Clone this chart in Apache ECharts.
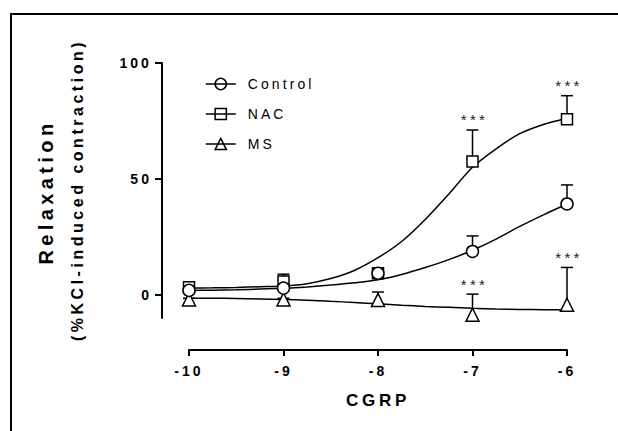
<!DOCTYPE html>
<html>
<head>
<meta charset="utf-8">
<script src="https://cdn.jsdelivr.net/npm/echarts@6/dist/echarts.min.js"></script>
<style>
html, body { margin: 0; padding: 0; background: #fff; }
#chart { width: 618px; height: 431px; }
#chart text { letter-spacing: 0.22em; }
</style>
</head>
<body>
<div id="chart"></div>
<script>
// ---- data ----
const xVals = [-10, -9, -8, -7, -6];
const seriesNames = ['Control', 'NAC', 'MS'];

const controlMean = [1.9, 2.9, 9.3, 18.7, 39.2];
const controlErr  = [0.6, 0.8, 0.8, 6.7, 8.2];
const controlSig  = ['', '', '', '', ''];

const nacMean = [3.3, 5.7, 9.3, 57.5, 75.7];
const nacErr  = [0.6, 3.2, 0.6, 13.6, 10.2];
const nacSig  = ['', '', '', '***', '***'];

const msMean = [-2.0, -2.0, -2.2, -8.6, -4.3];
const msErr  = [0.5, 0.5, 3.4, 8.9, 16.1];
const msSig  = ['', '', '', '***', '***'];

// fitted curves
const curveX       = [-10, -9.75, -9.5, -9.25, -9, -8.75, -8.5, -8.25, -8, -7.75, -7.5, -7.25, -7, -6.75, -6.5, -6.25, -6];
const controlCurve = [1.9, 2.0, 2.2, 2.5, 2.8, 3.4, 4.2, 5.2, 6.5, 8.8, 11.8, 15.2, 19.2, 24, 29.5, 34.5, 39.2];
const nacCurve     = [2.9, 3.0, 3.2, 3.5, 3.8, 4.8, 7.0, 10.5, 16, 23, 32.5, 43.5, 55, 63, 69.5, 73.5, 76.2];
const msCurve      = [-1.5, -1.5, -1.6, -1.8, -2.0, -2.3, -2.8, -3.3, -3.9, -4.5, -5.0, -5.4, -5.8, -6.1, -6.3, -6.4, -6.5];

const xTicks = [-10, -9, -8, -7, -6];
const yTicks = [0, 50, 100];

const FONT = "'Liberation Sans', Arial, sans-serif";

const chart = echarts.init(document.getElementById('chart'), null, { renderer: 'svg' });

function pairs(xs, ys) { return xs.map((x, i) => [x, ys[i]]); }

function curveSeries(name, symbol, ys) {
  return {
    name: name, type: 'line', xAxisIndex: 0, yAxisIndex: 0,
    data: pairs(curveX, ys), smooth: 0.3, symbol: symbol, showSymbol: false,
    symbolSize: 12, lineStyle: { color: '#000', width: 1.5 },
    itemStyle: { color: '#fff', borderColor: '#000', borderWidth: 1.5 },
    z: 2, silent: true, clip: false
  };
}

function pointSeries(name, symbol, size, ys, z) {
  return {
    name: name, type: 'scatter', xAxisIndex: 0, yAxisIndex: 0,
    data: pairs(xVals, ys), symbol: symbol, symbolSize: size,
    itemStyle: { color: '#fff', borderColor: '#000', borderWidth: 1.5, opacity: 1 },
    z: z, clip: false, silent: true
  };
}

function errSeries(name, mean, err, sig) {
  return {
    name: name, type: 'custom', xAxisIndex: 0, yAxisIndex: 0,
    data: xVals.map((x, i) => [x, mean[i], err[i]]),
    clip: false, silent: true, z: 3,
    renderItem: function (params, api) {
      const x = api.value(0), y = api.value(1), e = api.value(2);
      const p0 = api.coord([x, y]);
      const p1 = api.coord([x, y + e]);
      const children = [
        { type: 'line', shape: { x1: p0[0], y1: p0[1], x2: p1[0], y2: p1[1] },
          style: { stroke: '#000', lineWidth: 1.5 } },
        { type: 'line', shape: { x1: p1[0] - 6, y1: p1[1], x2: p1[0] + 6, y2: p1[1] },
          style: { stroke: '#000', lineWidth: 1.5 } }
      ];
      const s = sig[params.dataIndex];
      if (s) {
        children.push({ type: 'text', style: { text: s, x: p1[0] + 2, y: p1[1] - 10,
          align: 'center', verticalAlign: 'middle', font: '15px ' + FONT, fill: '#222' } });
      }
      return { type: 'group', children: children };
    }
  };
}

const option = {
  backgroundColor: '#fff',
  animation: false,
  grid: [
    { left: 162, right: 51, top: 63, bottom: 113 },
    { left: 189, right: 51, top: 63, bottom: 113 }
  ],
  xAxis: [
    { gridIndex: 0, type: 'value', min: -10.2857, max: -6, show: false },
    { gridIndex: 1, type: 'value', min: -10, max: -6, interval: 1, offset: 32,
      axisLine: { show: true, onZero: false, lineStyle: { color: '#000', width: 2 } },
      axisTick: { show: true, length: 6, lineStyle: { color: '#000', width: 2 } },
      axisLabel: { color: '#000', fontWeight: 'bold', fontSize: 14, fontFamily: FONT, margin: 14,
        customValues: xTicks },
      splitLine: { show: false },
      name: 'CGRP', nameLocation: 'middle', nameGap: 42,
      nameTextStyle: { color: '#000', fontWeight: 'bold', fontSize: 17, fontFamily: FONT }
    }
  ],
  yAxis: [
    { gridIndex: 0, type: 'value', min: -10, max: 100,
      axisLine: { show: true, onZero: false, lineStyle: { color: '#000', width: 2 } },
      axisTick: { show: true, length: 7, lineStyle: { color: '#000', width: 2 }, customValues: yTicks },
      axisLabel: { color: '#000', fontWeight: 'bold', fontSize: 14, fontFamily: FONT, margin: 10,
        customValues: yTicks },
      splitLine: { show: false }
    },
    { gridIndex: 1, type: 'value', min: -10, max: 100, show: false }
  ],
  legend: {
    data: seriesNames, orient: 'vertical', left: 200, top: 72,
    itemWidth: 30, itemHeight: 14, itemGap: 16,
    textStyle: { color: '#000', fontSize: 14, fontFamily: FONT, padding: [0, 0, 0, 7] },
    itemStyle: { color: 'transparent', borderColor: '#000', borderWidth: 1.5 },
    lineStyle: { color: '#000', width: 1.5 },
    selectedMode: false
  },
  graphic: [
    { type: 'polyline', shape: { points: [[11, 431], [11, 14], [618, 14]] },
      style: { stroke: '#000', lineWidth: 2, fill: null }, silent: true },
    { type: 'text', x: 46, y: 192, rotation: Math.PI / 2,
      style: { text: 'Relaxation', align: 'center', verticalAlign: 'middle',
        font: 'bold 20px ' + FONT, fill: '#000' } },
    { type: 'text', x: 77, y: 190, rotation: Math.PI / 2,
      style: { text: '(%KCl-induced contraction)', align: 'center', verticalAlign: 'middle',
        font: 'bold 16px ' + FONT, fill: '#000' } }
  ],
  series: [
    curveSeries('Control', 'circle', controlCurve),
    curveSeries('NAC', 'rect', nacCurve),
    curveSeries('MS', 'triangle', msCurve),
    errSeries('Control', controlMean, controlErr, controlSig),
    errSeries('NAC', nacMean, nacErr, nacSig),
    errSeries('MS', msMean, msErr, msSig),
    pointSeries('NAC', 'rect', 11, nacMean, 4),
    pointSeries('MS', 'triangle', 13, msMean, 4),
    pointSeries('Control', 'circle', 12, controlMean, 5)
  ]
};

chart.setOption(option);
</script>
</body>
</html>
